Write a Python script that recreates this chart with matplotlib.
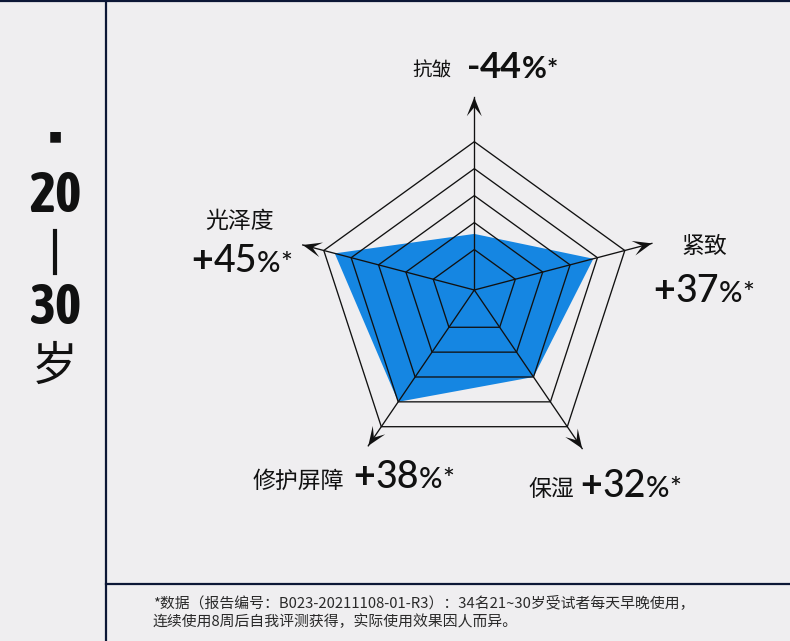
import numpy as np
import matplotlib.pyplot as plt
from matplotlib.patches import Polygon
from matplotlib import font_manager as fm

# data
names = ['抗皱', '紧致', '保湿', '修护屏障', '光泽度']
changes = ['-44', '+37', '+32', '+38', '+45']
scores = [2.08, 4.35, 3.5, 4.5, 5.1]
rings = [1.5, 2.5, 3.5, 4.5, 5.5]
age_from, age_to = '20', '30'
note1 = '*数据（报告编号：B023-20211108-01-R3）：34名21~30岁受试者每天早晚使用，'
note2 = '连续使用8周后自我评测获得，实际使用效果因人而异。'

bg = '#efeef0'
navy = '#0c1736'
blue = '#1586e2'
ink = '#111111'
cjk = ['Noto Sans CJK SC', 'DejaVu Sans']
num_font = ['Lato', 'DejaVu Sans']


def weight_of(f):
    w = f.weight
    return w if isinstance(w, int) else fm.weight_dict.get(w, 400)


# a bold condensed face for the age digits, if there is one
narrow_faces = [f for f in fm.fontManager.ttflist
                if ('Narrow' in f.name or 'Condensed' in f.name or 'condensed' in str(f.stretch))
                and weight_of(f) >= 600 and f.style == 'normal']
narrow_faces.sort(key=lambda f: (abs(weight_of(f) - 700), f.name))
if narrow_faces:
    age_prop = fm.FontProperties(fname=narrow_faces[0].fname, size=40)
else:
    age_prop = fm.FontProperties(family='Roboto', weight='bold', size=32)

# geometry in pixel units (spoke vectors point to the outer ring)
cx, cy = 474.3, 290.0
spoke = np.array([[0, -148.3], [150.5, -39.5], [93.0, 136.7],
                  [-93.0, 136.7], [-150.5, -39.5]])
reach = [1.30, 1.18, 1.16, 1.14, 1.14]
vmax = rings[-1]

fig = plt.figure(figsize=(7.9, 6.41), dpi=100)
fig.patch.set_facecolor(bg)
ax = fig.add_axes([0, 0, 1, 1])
ax.set_xlim(0, 790)
ax.set_ylim(641, 0)
ax.axis('off')
ax.set_facecolor(bg)

# data polygon
frac = np.array(scores) / vmax
pts = np.column_stack([cx + spoke[:, 0] * frac, cy + spoke[:, 1] * frac])
ax.add_patch(Polygon(pts, closed=True, facecolor=blue, edgecolor='none', zorder=1))

# rings
for r in rings:
    f = r / vmax
    ring = np.column_stack([cx + spoke[:, 0] * f, cy + spoke[:, 1] * f])
    ax.add_patch(Polygon(ring, closed=True, facecolor='none', edgecolor=ink, lw=0.95, zorder=2))

# spokes with arrowheads
for d, k in zip(spoke, reach):
    tip = np.array([cx, cy]) + d * k
    ax.plot([cx, tip[0]], [cy, tip[1]], color=ink, lw=0.95, zorder=2)
    u = d / np.hypot(*d)
    v = np.array([-u[1], u[0]])
    head = [tip, tip - 19 * u + 7.5 * v, tip - 10 * u, tip - 19 * u - 7.5 * v]
    ax.add_patch(Polygon(head, closed=True, facecolor=ink, edgecolor='none', zorder=3))

fig.canvas.draw()
renderer = fig.canvas.get_renderer()


def run(x, y, parts):
    for s, size, weight in parts:
        t = ax.text(x, y, s, fontsize=size, fontweight=weight, family=num_font,
                    va='baseline', ha='left', color=ink)
        x += t.get_window_extent(renderer).width


def value_parts(s, big, pct, star, w):
    return [(s[0], big, 'bold'), (s[1:], big, w), ('%', pct, w), ('*', star, w)]


# labels: (cjk x, cjk y, cjk size, number x, baseline)
spots = [(412.7, 70.5, 14, 466.7, 78.3),
         (681.7, 246.5, 16.5, 653.3, 301.7),
         (528.3, 489.0, 16.5, 580.7, 496.7),
         (252.7, 481.5, 16.5, 353.3, 488.3),
         (205.0, 221.5, 16.5, 191.7, 271.7)]
for i, (nm, ch) in enumerate(zip(names, changes)):
    tx, ty, ts, nx, ny = spots[i]
    ax.text(tx, ty, nm, fontsize=ts, family=cjk, va='center', ha='left', color=ink)
    if i == 0:
        run(nx, ny, value_parts(ch, 26, 22, 19, 'bold'))
    else:
        run(nx, ny, value_parts(ch, 27, 21, 20, 'medium'))

# frame
ax.plot([0, 790], [1, 1], color=navy, lw=1.6, zorder=4)
ax.plot([106, 106], [0, 641], color=navy, lw=1.6, zorder=4)
ax.plot([106, 790], [584, 584], color=navy, lw=1.6, zorder=4)

# left panel
ax.text(55, 136, '■', fontsize=10, family=['DejaVu Sans'], ha='center', va='center', color=ink)
ax.text(55, 197, age_from, fontproperties=age_prop, ha='center', va='center', color=ink)
ax.plot([55, 55], [231, 273], color=ink, lw=3.0)
ax.text(55, 308, age_to, fontproperties=age_prop, ha='center', va='center', color=ink)
ax.text(55, 367, '岁', fontsize=33, family=cjk, ha='center', va='center', color=ink)

# footnote
ax.text(153, 603, note1, fontsize=10.7, family=cjk, ha='left', va='center', color='#2a2a2a')
ax.text(153, 622, note2, fontsize=10.7, family=cjk, ha='left', va='center', color='#2a2a2a')

fig.savefig('out.png', dpi=100, facecolor=bg)
